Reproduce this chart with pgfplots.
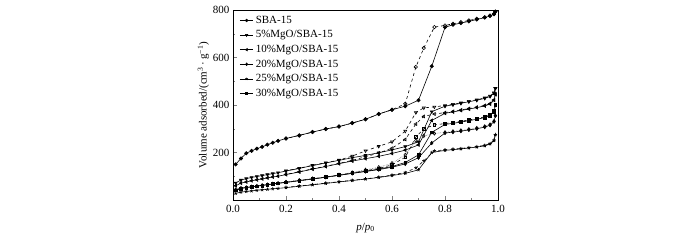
\documentclass[border=0pt]{standalone}
\usepackage{fontspec}
\setmainfont{Liberation Serif}
\usepackage{pgfplots}
\usepackage{pgfplotstable}
\pgfplotsset{compat=1.18}

% adsorption branches
\pgfplotstableread{
p sba m5 m10 m20 m25 m30
0.01 150 72 60 44 28 40
0.03 175 84 71 50 33 48
0.05 197 90 76 53 36 52
0.07 207 95 81 56 38 55
0.09 216 99 85 59 41 58
0.11 224 103 89 62 43 61
0.13 233 107 93 65 45 64
0.15 241 111 97 68 47 67
0.17 249 115 100 71 49 70
0.20 259 122 107 75 52 74
0.25 272 133 118 82 58 81
0.30 286 145 130 89 64 88
0.35 299 156 141 96 70 96
0.40 309 167 153 104 76 104
0.45 324 178 164 112 82 113
0.50 340 188 174 120 88 121
0.55 362 199 184 128 95 130
0.60 380 211 196 138 103 141
0.65 395 225 210 152 112 158
0.70 420 245 232 178 127 190
0.75 563 372 335 240 200 285
0.80 727 395 365 282 209 318
0.83 738 401 371 286 212 323
0.86 745 407 377 290 215 328
0.89 752 414 383 295 219 334
0.92 760 420 389 300 223 340
0.95 768 428 396 307 228 347
0.97 775 436 404 315 236 355
0.985 782 450 420 330 250 372
0.99 793 470 445 355 275 400
}\ads

% desorption branches
\pgfplotstableread{
p sba m5 m10 m20 m25 m30
0.99 793 470 445 355 275 400
0.985 784 452 422 332 252 375
0.97 777 438 406 318 238 358
0.95 770 430 398 310 230 350
0.92 763 422 391 303 225 343
0.89 756 416 385 298 221 337
0.86 749 409 379 293 217 331
0.83 742 403 373 289 214 326
0.80 735 398 368 285 211 322
0.76 728 392 362 280 207 316
0.72 640 388 352 270 165 300
0.69 560 368 320 250 135 265
0.65 405 290 255 190 116 180
0.60 380 245 218 155 105 148
0.55 362 226 198 138 96 133
0.50 340 207 182 127 89 123
0.45 324 185 167 116 83 114
0.40 309 168 154 106 77 105
0.35 299 157 142 97 71 97
0.30 286 146 131 90 65 89
0.25 272 134 119 83 59 82
0.20 259 123 108 76 53 75
}\des

\begin{document}
\begin{tikzpicture}
\begin{axis}[
  at={(0pt,0pt)}, anchor=south west,
  scale only axis, width=265pt, height=190pt,
  xmin=0, xmax=1.0, ymin=0, ymax=800,
  xtick={0,0.2,0.4,0.6,0.8,1.0},
  minor xtick={0.1,0.3,0.5,0.7,0.9},
  ytick={200,400,600,800},
  minor ytick={100,300,500,700},
  tick align=inside, tick pos=left,
  major tick length=3.5pt, minor tick length=2pt,
  xticklabel style={/pgf/number format/fixed, /pgf/number format/fixed zerofill,
    /pgf/number format/precision=1, yshift=-2pt},
  /pgf/number format/assume math mode=true,
  tick label style={font=\fontsize{11}{12}\selectfont},
  label style={font=\fontsize{11}{12}\selectfont},
  xlabel={\textit{p}/\textit{p}\textsubscript{0}},
  xlabel style={yshift=-3pt},
  ylabel={Volume adsorbed/(cm\textsuperscript{3}\,·\,g\textsuperscript{−1})},
  ylabel style={yshift=-3pt},
  axis line style={line width=0.8pt},
  every axis plot/.append style={line width=0.6pt, mark size=1.7pt},
  legend style={draw=none, fill=none, at={(0.02,0.985)}, anchor=north west,
    font=\fontsize{11}{12}\selectfont, row sep=1.8pt, inner sep=1pt},
  legend cell align=left,
  legend image post style={scale=0.8},
]
% adsorption (filled markers, solid)
\addplot[black, mark=*] table[x=p, y=sba] {\ads};
\addlegendentry{SBA-15}
\addplot[black, mark=triangle*, mark options={rotate=180}] table[x=p, y=m5] {\ads};
\addlegendentry{5\%MgO/SBA-15}
\addplot[black, mark=triangle*, mark options={rotate=90}] table[x=p, y=m10] {\ads};
\addlegendentry{10\%MgO/SBA-15}
\addplot[black, mark=diamond*] table[x=p, y=m20] {\ads};
\addlegendentry{20\%MgO/SBA-15}
\addplot[black, mark=star] table[x=p, y=m25] {\ads};
\addlegendentry{25\%MgO/SBA-15}
\addplot[black, mark=square*, mark size=1.3pt] table[x=p, y=m30] {\ads};
\addlegendentry{30\%MgO/SBA-15}
% desorption (open markers, dashed)
\addplot[black, dashed, mark=o, mark options={solid, fill=white}, forget plot] table[x=p, y=sba] {\des};
\addplot[black, dashed, mark=triangle, mark options={solid, rotate=180, fill=white}, forget plot] table[x=p, y=m5] {\des};
\addplot[black, dashed, mark=triangle, mark options={solid, rotate=90, fill=white}, forget plot] table[x=p, y=m10] {\des};
\addplot[gray, densely dotted, mark=diamond, mark options={solid, black, fill=white}, forget plot] table[x=p, y=m20] {\des};
\addplot[black, dashed, mark=star, mark options={solid}, forget plot] table[x=p, y=m25] {\des};
\addplot[black, dashed, mark=square, mark size=1.3pt, mark options={solid, fill=white}, forget plot] table[x=p, y=m30] {\des};
\end{axis}
\path[use as bounding box] (-233pt,-40pt) rectangle (467pt,200pt);
\end{tikzpicture}
\end{document}
